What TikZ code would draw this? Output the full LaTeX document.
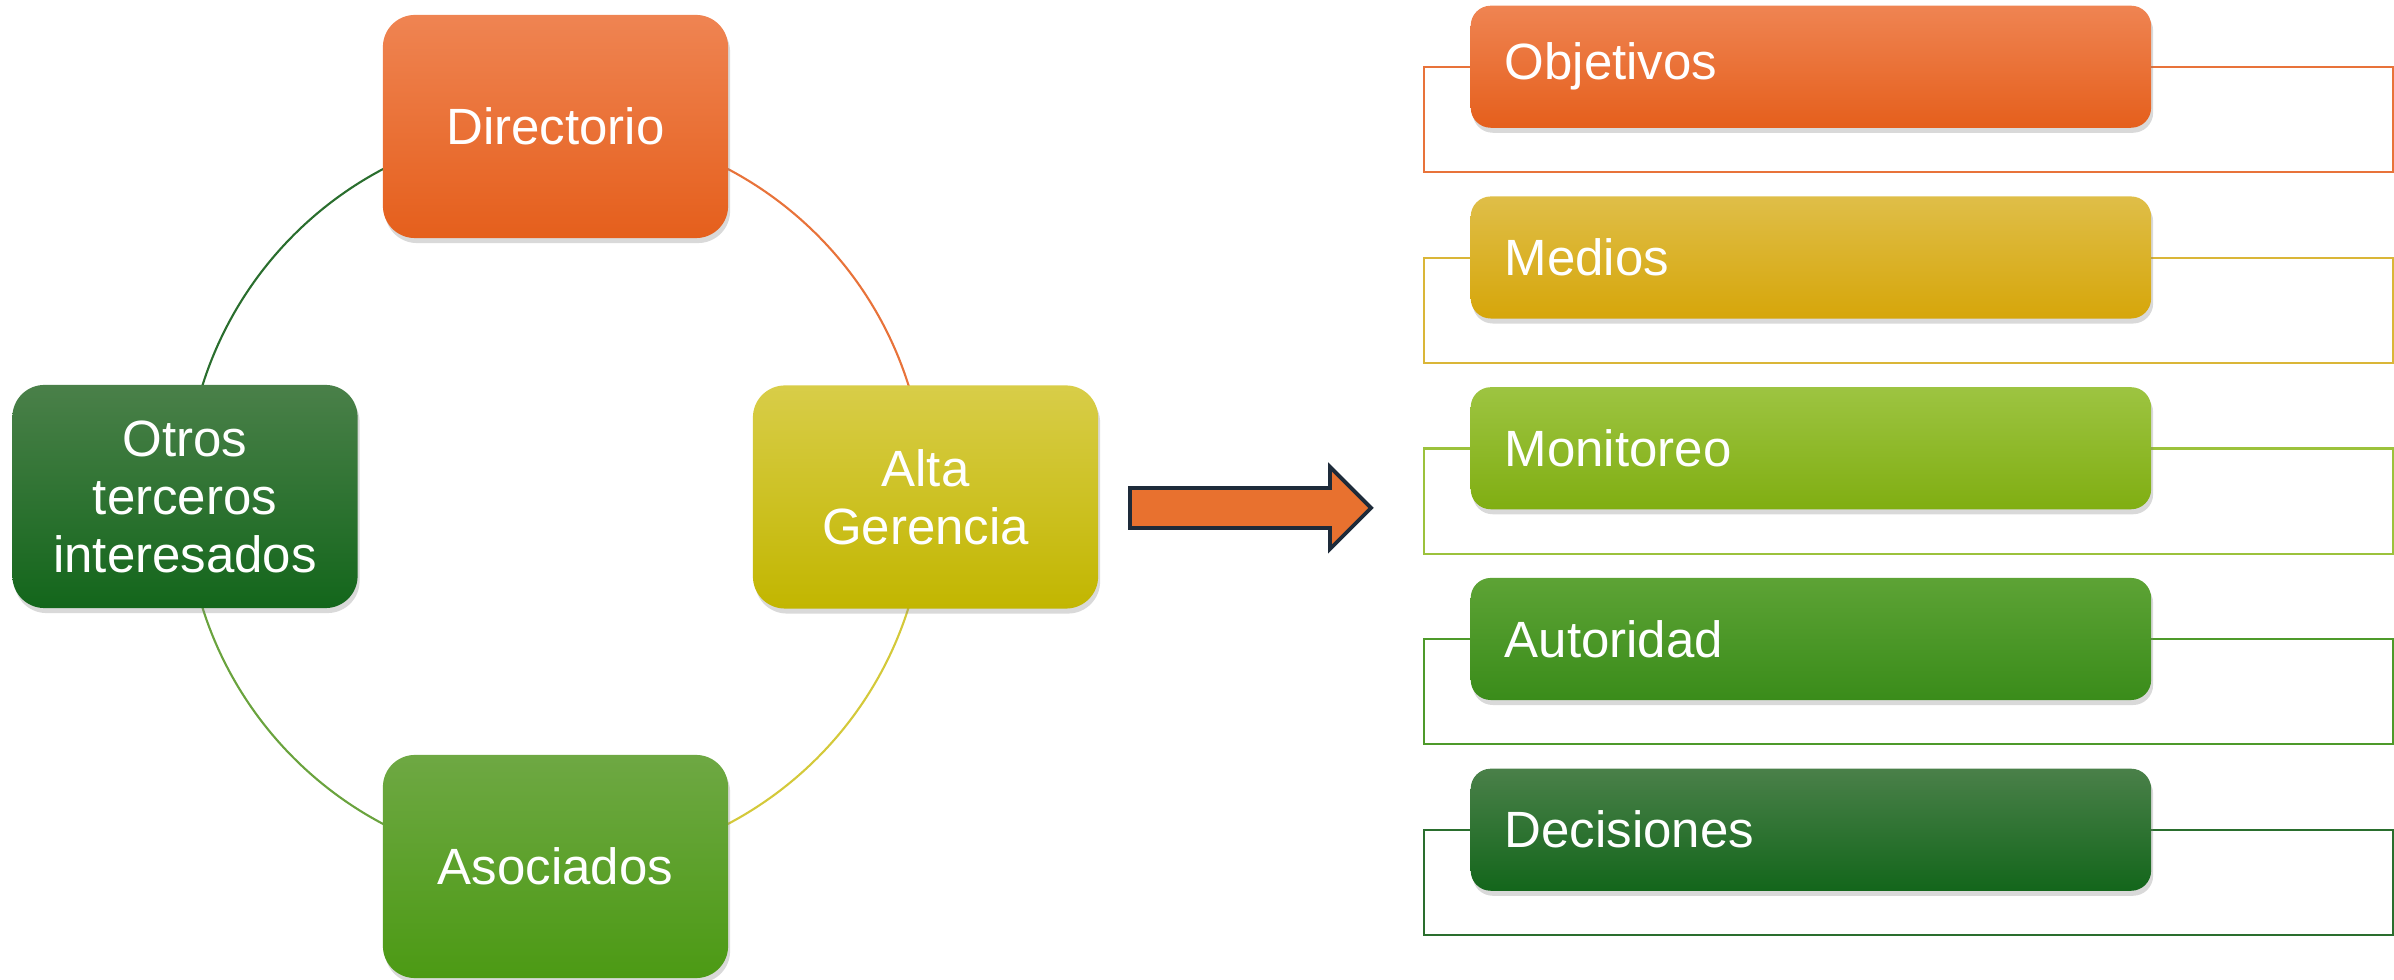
\documentclass[tikz,border=0pt]{standalone}
\usepackage{fontspec}
\setmainfont{Liberation Sans}
\usetikzlibrary{shadows}
\definecolor{oTop}{HTML}{EF8452}\definecolor{oBot}{HTML}{E55F1C}\definecolor{oLn}{HTML}{E8733A}
\definecolor{gTop}{HTML}{DFBE48}\definecolor{gBot}{HTML}{D6A60A}\definecolor{gLn}{HTML}{DAB638}
\definecolor{yTop}{HTML}{D8CD48}\definecolor{yBot}{HTML}{C2B600}\definecolor{yLn}{HTML}{D4C93A}
\definecolor{lTop}{HTML}{9DC441}\definecolor{lBot}{HTML}{80AE12}\definecolor{lLn}{HTML}{9CC23C}
\definecolor{mTop}{HTML}{6EA843}\definecolor{mBot}{HTML}{4C9A14}\definecolor{mLn}{HTML}{6AA33E}
\definecolor{aTop}{HTML}{5DA335}\definecolor{aBot}{HTML}{3A8C1A}\definecolor{aLn}{HTML}{4E9A2A}
\definecolor{dTop}{HTML}{4A8049}\definecolor{dBot}{HTML}{13661B}\definecolor{dLn}{HTML}{2A6E2E}
\definecolor{arrFill}{HTML}{E8712F}\definecolor{arrLine}{HTML}{1E2B3A}
\begin{document}
\begin{tikzpicture}[x=0.01cm,y=-0.01cm,
  cbox/.style={rounded corners=0.32cm, minimum width=3.45cm, minimum height=2.23cm,
    inner sep=0pt, align=center, text=white, font=\fontsize{14.5}{16.5}\selectfont,
    drop shadow={shadow xshift=0.02cm, shadow yshift=-0.05cm, opacity=0.3}},
  rbox/.style={rounded corners=0.2cm, minimum height=1.22cm, text width=6.12cm,
    inner xsep=0.34cm, inner ysep=0pt, align=left, text=white, anchor=north west,
    font=\fontsize{14.5}{16.5}\selectfont,
    drop shadow={shadow xshift=0.02cm, shadow yshift=-0.05cm, opacity=0.3}},
  outer/.style={minimum width=9.68cm, minimum height=1.05cm, inner sep=0pt,
    line width=0.6pt, anchor=north west},
  ring/.style={line width=0.6pt},
  bigarrow/.style={draw=arrLine, fill=arrFill, line width=1.1pt, line join=miter}]
\useasboundingbox (0,0) rectangle (2394,980);
% circle centre
\coordinate (c) at (555.5,496.5);
\draw[ring, oLn] ([shift={(270:370)}]c) arc (270:360:370);
\draw[ring, yLn] ([shift={(0:370)}]c) arc (0:90:370);
\draw[ring, mLn] ([shift={(90:370)}]c) arc (90:180:370);
\draw[ring, dLn] ([shift={(180:370)}]c) arc (180:270:370);
% cycle boxes
\node[cbox, top color=oTop, bottom color=oBot] (dir) at (555.5,126.5) {Directorio};
\node[cbox, top color=yTop, bottom color=yBot] (alta) at (925.5,497) {Alta\\Gerencia};
\node[cbox, top color=mTop, bottom color=mBot] (aso) at (555.5,866.5) {Asociados};
\node[cbox, top color=dTop, bottom color=dBot] (otros) at (185,496.5) {Otros\\terceros\\interesados};
% big arrow
\coordinate (arr) at (1130,508);
\draw[bigarrow] (arr) ++(0,-20) -- ++(200,0) -- ++(0,-21) -- (1371,508)
  -- (1330,549) -- ++(0,-21) -- (1130,528) -- cycle;
% right list
\foreach \t/\ct/\cb/\cr [count=\i from 0] in
  {Objetivos/oTop/oBot/oLn, Medios/gTop/gBot/gLn, Monitoreo/lTop/lBot/lLn,
   Autoridad/aTop/aBot/aLn, Decisiones/dTop/dBot/dLn}{
  \pgfmathsetmacro\yt{5+190.75*\i}
  \node[outer, draw=\cr] (rect\i) at (1423,{\yt+61}) {};
  \node[rbox, top color=\ct, bottom color=\cb] (box\i) at (1470,\yt) {\t};
}
\end{tikzpicture}
\end{document}
